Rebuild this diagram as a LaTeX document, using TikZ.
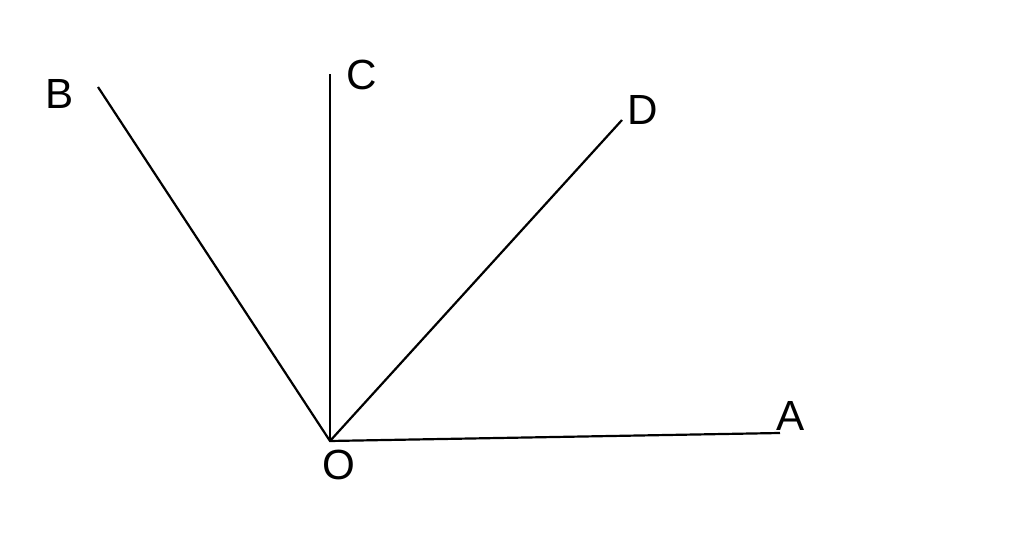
\documentclass[tikz,border=0pt]{standalone}
\usepackage{fontspec}
\setmainfont{Liberation Sans}
\usetikzlibrary{positioning}
\tikzset{ray/.style={line width=1.25pt}, pointlbl/.style={inner sep=0pt, font=\fontsize{24}{28}\selectfont}}

\begin{document}
\begin{tikzpicture}
	\useasboundingbox (0,0) rectangle (20.48,10.82);
	\coordinate (O) at (6.60,2.00);
	\coordinate (A) at (15.60,2.16);
	\coordinate (B) at (1.96,9.08);
	\coordinate (C) at (6.60,9.34);
	\coordinate (D) at (12.44,8.42);
	\node[pointlbl] (lblO) at (6.78,1.52) {O};
	\node[pointlbl] (lblA) at (15.82,2.50) {A};
	\node[pointlbl] (lblB) at (1.20,8.94) {B};
	\node[pointlbl] (lblC) at (7.24,9.32) {C};
	\node[pointlbl] (lblD) at (12.86,8.62) {D};
	\draw [ray] (B) -- (O) -- (A);
	\draw [ray] (O) -- (C);
	\draw [ray] (O) -- (D);
\end{tikzpicture}
\end{document}
